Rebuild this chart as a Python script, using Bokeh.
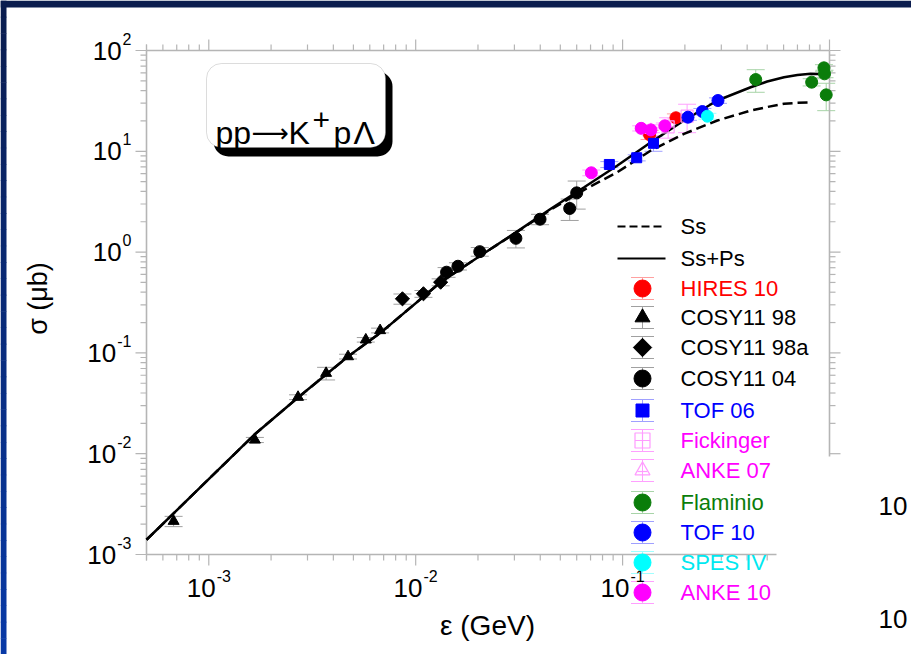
import numpy as np
from bokeh.plotting import figure
from bokeh.models import Range1d, Whisker, TeeHead, ColumnDataSource, BoxAnnotation
from bokeh.core.properties import value
from bokeh.embed import file_html
from bokeh.resources import INLINE

# ---------------- data: pp -> K+ p Lambda total cross section ----------------
# excess energy epsilon (GeV), cross section sigma (micro-barn), error (micro-barn)
hires10_e = [0.135, 0.181]
hires10_s = [14.6, 21.5]
hires10_err = [1.5, 2.0]

cosy98_e = [6.76e-4, 1.67e-3, 2.70e-3, 3.69e-3, 4.71e-3, 5.74e-3, 6.73e-3]
cosy98_s = [2.14e-3, 1.37e-2, 3.64e-2, 6.29e-2, 9.2e-2, 0.135, 0.167]
cosy98_err = [0.25e-3, 0.8e-3, 2.0e-3, 0.009, 0.005, 0.007, 0.009]

cosy98a_e = [8.63e-3, 1.09e-2, 1.32e-2]
cosy98a_s = [0.344, 0.386, 0.503]
cosy98a_err = [0.04, 0.03, 0.04]

cosy04_e = [1.41e-2, 1.60e-2, 2.04e-2, 3.05e-2, 3.99e-2, 5.55e-2, 6.0e-2]
cosy04_s = [0.632, 0.724, 1.01, 1.37, 2.12, 2.71, 3.87]
cosy04_err = [0.07, 0.06, 0.10, 0.27, 0.25, 0.65, 1.2]

tof06_e = [0.0863, 0.117, 0.141]
tof06_s = [7.40, 8.63, 12.0]
tof06_err = [0.5, 0.6, 2.0]

fick_e = [0.166, 0.205]
fick_s = [17.5, 22.3]
fick_err = [4.0, 7.0]

anke07_e = [0.137]
anke07_s = [16.3]
anke07_err = [2.0]

flam_e = [0.440, 0.820, 0.940, 0.946, 0.964]
flam_s = [51.5, 48.5, 67.3, 58.7, 36.3]
flam_err = [13.0, 4.0, 5.0, 5.0, 11.0]

tof10_e = [0.207, 0.243, 0.289]
tof10_s = [21.8, 24.8, 31.9]
tof10_err = [1.5, 1.8, 2.0]

spes4_e = [0.257]
spes4_s = [22.3]
spes4_err = [1.5]

anke10_e = [0.0706, 0.123, 0.137, 0.160]
anke10_s = [6.12, 16.9, 16.3, 17.9]
anke10_err = [0.4, 1.0, 1.0, 1.2]

# model curves
ss_ps_e = [5.0e-4, 1.675e-3, 2.70e-3, 4.71e-3, 6.78e-3, 1.32e-2, 2.06e-2, 3.05e-2,
           4.50e-2, 6.52e-2, 9.44e-2, 0.137, 0.198, 0.287, 0.416, 0.50, 0.603,
           0.70, 0.81, 0.90, 1.0]
ss_ps_s = [1.40e-3, 1.57e-2, 3.61e-2, 9.2e-2, 0.159, 0.503, 0.925, 1.57,
           2.69, 4.40, 7.22, 12.3, 20.2, 31.9, 43.2, 49.2, 54.3,
           57.0, 58.7, 58.3, 55.8]
ss_e = [5.0e-4, 1.675e-3, 2.70e-3, 4.71e-3, 6.78e-3, 1.32e-2, 2.06e-2, 3.05e-2,
        4.50e-2, 6.52e-2, 9.44e-2, 0.137, 0.198, 0.287, 0.416, 0.50, 0.603,
        0.70, 0.827]
ss_s = [1.40e-3, 1.57e-2, 3.61e-2, 9.2e-2, 0.159, 0.503, 0.925, 1.56,
        2.64, 4.15, 6.21, 10.2, 14.9, 20.2, 25.4, 27.5, 29.6,
        30.3, 30.7]

# axis ticks
x_min, x_max = 5e-4, 1.0
y_min, y_max = 1e-3, 1e2
x_major = [1e-3, 1e-2, 1e-1, 1.0]
x_major_exp = ["-3", "-2", "-1"]
x_minor = [m * 10.0 ** k for k in (-4, -3, -2, -1) for m in range(2, 10)
           if x_min <= m * 10.0 ** k < x_max]
y_major = [1e-3, 1e-2, 1e-1, 1e0, 1e1, 1e2]
y_major_exp = ["-3", "-2", "-1", "0", "1", "2"]
y_minor = [m * 10.0 ** k for k in (-3, -2, -1, 0, 1) for m in range(2, 10)]

# ---------------- page geometry (pixels) ----------------
W, H = 911, 654
AX_L, AX_R, AX_T, AX_B = 146, 829, 50, 554
KX = (AX_R - AX_L) / (np.log10(x_max) - np.log10(x_min))
KY = (AX_B - AX_T) / (np.log10(y_max) - np.log10(y_min))


def X(px):
    return 10 ** (np.log10(x_min) + (px - AX_L) / KX)


def Y(py):
    return 10 ** (np.log10(y_max) - (py - AX_T) / KY)


def px_of(x):
    return AX_L + (np.log10(x) - np.log10(x_min)) * KX


def py_of(y):
    return AX_T + (np.log10(y_max) - np.log10(y)) * KY


def tw(s, size):
    return size * sum(0.333 if c == "-" else 0.556 for c in s)


FONT = value("Liberation Sans")
AX_COL = "#b5b5b5"

p = figure(width=W, height=H, x_axis_type="log", y_axis_type="log",
           x_range=Range1d(X(0), X(W)), y_range=Range1d(Y(H), Y(0)),
           x_axis_location=None, y_axis_location=None,
           toolbar_location=None, output_backend="svg", min_border=0)
p.xgrid.visible = False
p.ygrid.visible = False
p.outline_line_color = None
p.background_fill_color = "white"
p.border_fill_color = "white"

# slide frame: dark top band and blue left band
p.quad(left=[X(0)], right=[X(W)], top=[Y(0)], bottom=[Y(7)],
       fill_color="#0b1d4e", line_color=None)
n = 40
edges = np.linspace(0, H, n + 1)
c0, c1 = np.array([11, 29, 78]), np.array([8, 58, 168])
cols = ["#%02x%02x%02x" % tuple((c0 + (c1 - c0) * (i + 0.5) / n).astype(int)) for i in range(n)]
p.quad(left=[X(0)] * n, right=[X(6)] * n, top=[Y(v) for v in edges[:-1]],
       bottom=[Y(v + 0.6) for v in edges[1:]], fill_color=cols, line_color=None)

# frame lines
p.segment(x0=[x_min, x_min, x_min, x_max], y0=[y_min, y_max, y_min, y_min],
          x1=[x_max, x_max, x_min, x_max], y1=[y_min, y_max, y_max, y_max],
          line_color=AX_COL, line_width=1.6)

# ticks pointing outwards
for xs, ln in ((x_major, 11), (x_minor + [x_min], 6)):
    p.ray(x=xs, y=[y_min] * len(xs), length=ln, angle=-np.pi / 2,
          length_units="screen", line_color=AX_COL, line_width=1.2)
    p.ray(x=xs, y=[y_max] * len(xs), length=ln, angle=np.pi / 2,
          length_units="screen", line_color=AX_COL, line_width=1.2)
for ys, ln in ((y_major, 11), (y_minor, 6)):
    p.ray(x=[x_min] * len(ys), y=ys, length=ln, angle=np.pi,
          length_units="screen", line_color=AX_COL, line_width=1.2)
    p.ray(x=[x_max] * len(ys), y=ys, length=ln, angle=0,
          length_units="screen", line_color=AX_COL, line_width=1.2)

# tick labels 10^n
BASE, EXP = 26, 16
for t, e in zip(x_major, x_major_exp):
    tot = tw("10", BASE) + 1 + tw(e, EXP)
    left = px_of(t) - tot / 2
    p.text(x=[X(left)], y=[Y(AX_B + 33)], text=["10"], text_font=FONT,
           text_font_size=f"{BASE}px", text_align="left", text_baseline="middle",
           text_color="black")
    p.text(x=[X(left + tw("10", BASE) + 1)], y=[Y(AX_B + 21)], text=[e], text_font=FONT,
           text_font_size=f"{EXP}px", text_align="left", text_baseline="middle",
           text_color="black")
for t, e in zip(y_major, y_major_exp):
    py = py_of(t)
    p.text(x=[X(131 - tw(e, EXP) - 1)], y=[Y(py)], text=["10"], text_font=FONT,
           text_font_size=f"{BASE}px", text_align="right", text_baseline="middle",
           text_color="black")
    p.text(x=[X(131)], y=[Y(py - 12)], text=[e], text_font=FONT,
           text_font_size=f"{EXP}px", text_align="right", text_baseline="middle",
           text_color="black")

# axis titles
p.text(x=[X(487)], y=[Y(625)], text=["ε (GeV)"], text_font=FONT, text_font_size="28px",
       text_align="center", text_baseline="middle", text_color="black")
p.text(x=[X(37)], y=[Y(298)], text=["σ (μb)"], text_font=FONT, text_font_size="27px",
       text_align="center", text_baseline="middle", text_color="black", angle=np.pi / 2)

# reaction box with drop shadow
p.add_layout(BoxAnnotation(left=X(213), right=X(392), top=Y(71), bottom=Y(156),
                           fill_color="black", fill_alpha=1, line_color=None,
                           border_radius=15, level="underlay"))
p.add_layout(BoxAnnotation(left=X(206), right=X(385), top=Y(63), bottom=Y(147),
                           fill_color="white", fill_alpha=1, line_color="#8a8a8a",
                           line_width=1, border_radius=15, level="underlay"))
for txt, xp, yp, fs, fnt in (("pp", 215, 132, 32, FONT),
                             ("⟶", 251, 132, 26, value("DejaVu Sans")),
                             ("K", 288, 132, 32, FONT),
                             ("+", 312, 119, 30, FONT),
                             ("p", 333, 132, 32, FONT),
                             ("Λ", 353, 132, 32, FONT)):
    p.text(x=[X(xp)], y=[Y(yp)], text=[txt], text_font=fnt, text_font_size=f"{fs}px",
           text_align="left", text_baseline="alphabetic", text_color="black")

# model curves
p.line(ss_e, ss_s, line_color="black", line_width=2.5, line_dash="10 5")
p.line(ss_ps_e, ss_ps_s, line_color="black", line_width=2.5)

# measurements: name, x, y, err, marker, colour, text colour, bar colour, size, filled
series = [
    ("HIRES 10", hires10_e, hires10_s, hires10_err, "circle", "#ff0000", "#ff0000", "#ffa0a0", 12, True),
    ("COSY11 98", cosy98_e, cosy98_s, cosy98_err, "triangle", "black", "black", "#a0a0a0", 11, True),
    ("COSY11 98a", cosy98a_e, cosy98a_s, cosy98a_err, "diamond", "black", "black", "#a0a0a0", 10, True),
    ("COSY11 04", cosy04_e, cosy04_s, cosy04_err, "circle", "black", "black", "#a0a0a0", 12, True),
    ("TOF 06", tof06_e, tof06_s, tof06_err, "square", "#0000ff", "#0000ff", "#a0a0ff", 10, True),
    ("Fickinger", fick_e, fick_s, fick_err, "square_cross", "#ff9cff", "#ff00ff", "#ffa0ff", 12, False),
    ("ANKE 07", anke07_e, anke07_s, anke07_err, "triangle", "#ff9cff", "#ff00ff", "#ffa0ff", 12, False),
    ("Flaminio", flam_e, flam_s, flam_err, "circle", "#0a7d0a", "#0a7d0a", "#a8d4a8", 12, True),
    ("TOF 10", tof10_e, tof10_s, tof10_err, "circle", "#0000ff", "#0000ff", "#a0a0ff", 12, True),
    ("SPES IV", spes4_e, spes4_s, spes4_err, "circle", "#00ffff", "#00e8f0", "#a0ffff", 12, True),
    ("ANKE 10", anke10_e, anke10_s, anke10_err, "circle", "#ff00ff", "#ff00ff", "#ffa0ff", 12, True),
]


def whisker(xs, lo, hi, col, cap):
    src = ColumnDataSource(dict(x=xs, lo=lo, hi=hi))
    p.add_layout(Whisker(source=src, base="x", lower="lo", upper="hi", dimension="height",
                         line_color=col, line_width=1,
                         upper_head=TeeHead(size=cap, line_color=col, line_width=1),
                         lower_head=TeeHead(size=cap, line_color=col, line_width=1)))


def marker(xs, ys, mk, size, col, filled):
    # the diamond is drawn as a square turned by 45 degrees
    if mk == "diamond":
        p.scatter(xs, ys, marker="square", angle=np.pi / 4, size=size,
                  fill_color=col, line_color=col)
    else:
        p.scatter(xs, ys, marker=mk, size=size, fill_color=col if filled else None,
                  line_color=col, line_width=1 if filled else 1.2)


for name, e, s, err, mk, col, tcol, ecol, size, filled in series:
    whisker(e, [a - b for a, b in zip(s, err)], [a + b for a, b in zip(s, err)], ecol, 18)
for name, e, s, err, mk, col, tcol, ecol, size, filled in series:
    marker(e, s, mk, size, col, filled)
    if name == "ANKE 07":
        p.scatter(e, s, marker="dash", size=size * 0.6, line_color=col, line_width=1.2)

# white panel of the neighbouring chart overlapping the lower right corner
p.quad(left=[X(776)], right=[X(W)], top=[Y(456)], bottom=[Y(H)],
       fill_color="white", line_color=None)
for yp in (505, 618):
    p.text(x=[X(878)], y=[Y(yp)], text=["10"], text_font=FONT, text_font_size="26px",
           text_align="left", text_baseline="middle", text_color="black")

# legend
LX_M, LX_T = 642, 680
p.line([X(617), X(665)], [Y(226)] * 2, line_color="black", line_width=2, line_dash="8 4")
p.line([X(617), X(665)], [Y(258)] * 2, line_color="black", line_width=2)
for txt, yp in (("Ss", 226), ("Ss+Ps", 258)):
    p.text(x=[X(LX_T)], y=[Y(yp)], text=[txt], text_font=FONT, text_font_size="22px",
           text_align="left", text_baseline="middle", text_color="black")
row_y = [288, 317, 347, 378, 410, 440, 470, 502, 532, 562, 592]
legend_size = {"circle": 17, "triangle": 15, "diamond": 13, "square": 13, "square_cross": 15}
for (name, e, s, err, mk, col, tcol, ecol, size, filled), yp in zip(series, row_y):
    whisker([X(LX_M)], [Y(yp + 11)], [Y(yp - 11)], ecol, 23)
    marker([X(LX_M)], [Y(yp)], mk, legend_size[mk], col, filled)
    if name == "ANKE 07":
        p.scatter([X(LX_M)], [Y(yp + 1)], marker="dash", size=10, line_color=col, line_width=1.2)
    p.text(x=[X(LX_T)], y=[Y(yp)], text=[name], text_font=FONT, text_font_size="22px",
           text_align="left", text_baseline="middle", text_color=tcol)

open("out.html", "w").write(file_html(p, INLINE))
